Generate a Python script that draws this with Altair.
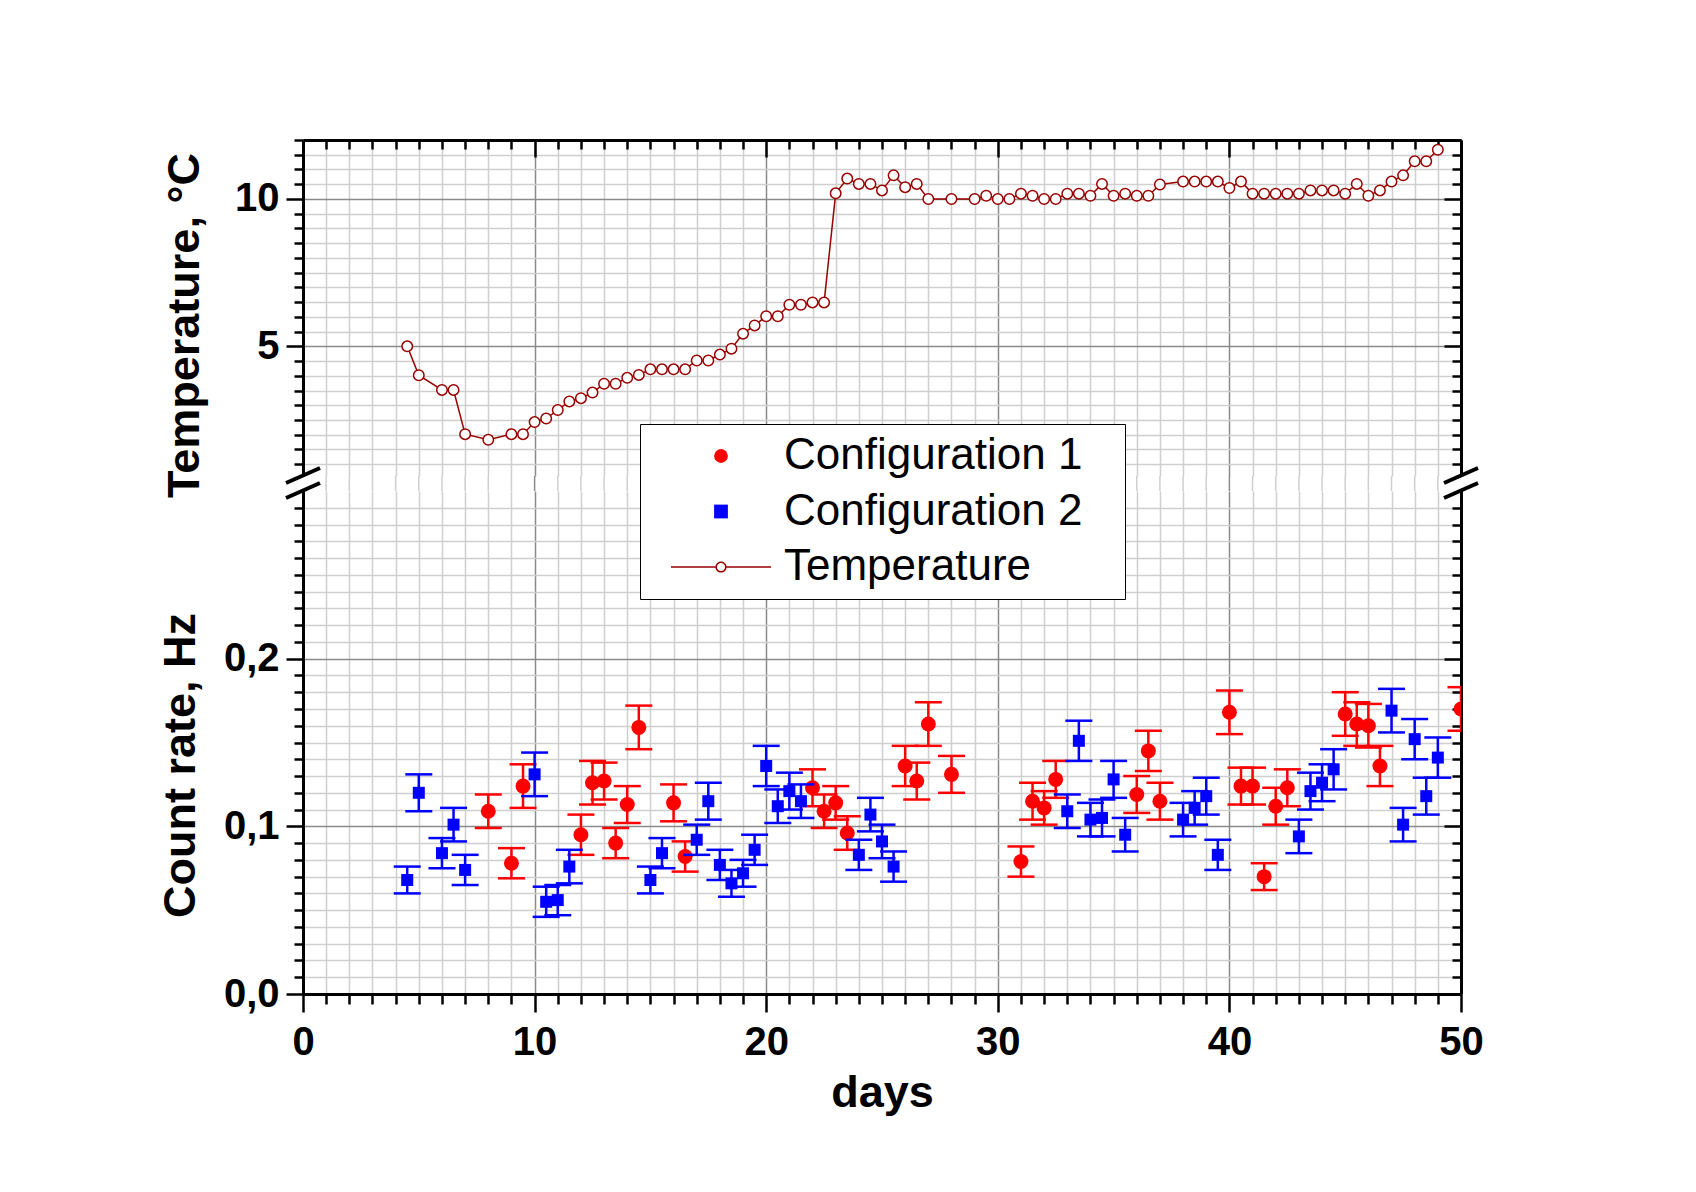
import altair as alt
import pandas as pd

# ---------------- data ----------------
days_c1 = [8, 9, 9.5, 12, 12.5, 13, 13.5, 14, 14.5, 16, 16.5, 22, 22.5, 23, 23.5,
           26, 26.5, 27, 28, 31, 31.5, 32, 32.5, 36, 36.5, 37, 40, 40.5, 41, 41.5,
           42, 42.5, 45, 45.5, 46, 46.5, 50]
rate_c1 = [0.109, 0.078, 0.124, 0.095, 0.126, 0.127, 0.090, 0.113, 0.159, 0.114, 0.082,
           0.123, 0.109, 0.114, 0.096, 0.136, 0.127, 0.161, 0.131, 0.079, 0.115, 0.111,
           0.128, 0.119, 0.145, 0.115, 0.168, 0.124, 0.124, 0.070, 0.112, 0.123, 0.167,
           0.161, 0.160, 0.136, 0.170]
err_c1 = [0.010, 0.009, 0.013, 0.012, 0.013, 0.011, 0.009, 0.011, 0.013, 0.011, 0.009,
          0.011, 0.010, 0.010, 0.010, 0.012, 0.011, 0.013, 0.011, 0.009, 0.011, 0.010,
          0.011, 0.011, 0.012, 0.011, 0.013, 0.011, 0.011, 0.008, 0.011, 0.011, 0.013,
          0.013, 0.013, 0.012, 0.013]

days_c2 = [4.5, 5, 6, 6.5, 7, 10, 10.5, 11, 11.5, 15, 15.5, 17, 17.5, 18, 18.5, 19, 19.5,
           20, 20.5, 21, 21.5, 24, 24.5, 25, 25.5, 33, 33.5, 34, 34.5, 35, 35.5, 38, 38.5,
           39, 39.5, 43, 43.5, 44, 44.5, 47, 47.5, 48, 48.5, 49]
rate_c2 = [0.068, 0.120, 0.084, 0.101, 0.074, 0.131, 0.055, 0.056, 0.076, 0.068, 0.084,
           0.092, 0.115, 0.077, 0.066, 0.072, 0.086, 0.136, 0.112, 0.121, 0.115, 0.083,
           0.107, 0.091, 0.076, 0.109, 0.151, 0.104, 0.105, 0.128, 0.095, 0.104, 0.111,
           0.118, 0.083, 0.094, 0.121, 0.126, 0.134, 0.169, 0.101, 0.152, 0.118, 0.141]
err_c2 = [0.008, 0.011, 0.009, 0.010, 0.009, 0.013, 0.009, 0.009, 0.010, 0.008, 0.009,
          0.009, 0.011, 0.009, 0.008, 0.008, 0.009, 0.012, 0.010, 0.011, 0.010, 0.009,
          0.010, 0.010, 0.009, 0.010, 0.012, 0.010, 0.011, 0.011, 0.010, 0.010, 0.010,
          0.011, 0.009, 0.010, 0.011, 0.011, 0.012, 0.013, 0.010, 0.012, 0.011, 0.012]

temp_days = [4.5, 5, 6, 6.5, 7, 8, 9, 9.5, 10, 10.5, 11, 11.5, 12, 12.5, 13, 13.5, 14, 14.5,
             15, 15.5, 16, 16.5, 17, 17.5, 18, 18.5, 19, 19.5, 20, 20.5, 21, 21.5, 22, 22.5,
             23, 23.5, 24, 24.5, 25, 25.5, 26, 26.5, 27, 28, 29, 29.5, 30, 30.5, 31, 31.5,
             32, 32.5, 33, 33.5, 34, 34.5, 35, 35.5, 36, 36.5, 37, 38, 38.5, 39, 39.5, 40,
             40.5, 41, 41.5, 42, 42.5, 43, 43.5, 44, 44.5, 45, 45.5, 46, 46.5, 47, 47.5, 48,
             48.5, 49]
temp_vals = [5.0, 4.02, 3.52, 3.52, 2.02, 1.83, 2.02, 2.02, 2.43, 2.55, 2.84, 3.13, 3.24,
             3.43, 3.73, 3.73, 3.93, 4.03, 4.22, 4.22, 4.22, 4.22, 4.52, 4.52, 4.72, 4.92,
             5.43, 5.71, 6.02, 6.02, 6.41, 6.41, 6.49, 6.49, 10.19, 10.69, 10.51, 10.51,
             10.29, 10.8, 10.40, 10.51, 10.0, 10.0, 10.0, 10.11, 10.0, 10.0, 10.18, 10.11,
             10.0, 10.0, 10.18, 10.18, 10.11, 10.51, 10.11, 10.18, 10.11, 10.11, 10.49,
             10.59, 10.59, 10.59, 10.59, 10.37, 10.59, 10.18, 10.18, 10.18, 10.18, 10.18,
             10.29, 10.29, 10.29, 10.18, 10.51, 10.11, 10.29, 10.59, 10.8, 11.28, 11.28, 11.67]

series_names = ["Configuration 1", "Configuration 2", "Temperature"]
series_colors = ["#ff0000", "#0000ff", "#990000"]

x_ticks = list(range(0, 51))
rate_ticks = [round(i * 0.01, 2) for i in range(0, 30)]
temp_ticks = [round(1.0 + i * 0.5, 1) for i in range(0, 23)]

# ---------------- layout constants ----------------
W = 1158
H_TOP = 336
H_BOT = 503
GAP = 15
FONT = "Liberation Sans"
MINOR = "#cfcfcf"
MAJOR = "#8a8a8a"
TEMP_COLOR = series_colors[2]

# legend glyph for the temperature entry: short line through an open circle
temp_path = ("M-7.26,-0.109L-0.80,-0.109L-0.80,0.109L-7.26,0.109Z"
             "M0.80,-0.109L7.26,-0.109L7.26,0.109L0.80,0.109Z"
             "M0.813,0A0.813,0.813,0,1,0,-0.813,0A0.813,0.813,0,1,0,0.813,0Z"
             "M0.595,0A0.595,0.595,0,1,1,-0.595,0A0.595,0.595,0,1,1,0.595,0Z")
series_shapes = ["circle", "square", temp_path]

c1 = pd.DataFrame({"days": days_c1, "rate": rate_c1, "err": err_c1, "series": series_names[0]})
c2 = pd.DataFrame({"days": days_c2, "rate": rate_c2, "err": err_c2, "series": series_names[1]})
tdf = pd.DataFrame({"days": temp_days, "temp": temp_vals})
gap_ticks = pd.DataFrame({"tick": x_ticks[1:-1]})
one = pd.DataFrame({"k": [0]})


def cond(test, a, b):
    return {"condition": {"test": test, "value": a}, "value": b}


X10 = "datum.value % 10 === 0"
R10 = "round(datum.value * 100) % 10 === 0"
T5 = "datum.value % 5 === 0"

x_scale = alt.Scale(domain=[0, 50], nice=False, zero=False)
rate_scale = alt.Scale(domain=[0, 0.3], nice=False, zero=False)
temp_scale = alt.Scale(domain=[0.6, 12], nice=False, zero=False)

common_tick = dict(tickColor="black", tickWidth=2.5, domainColor="black", domainWidth=3)
label_style = dict(labelFont=FONT, labelFontSize=40, labelFontWeight="bold", labelColor="black",
                   labelOverlap=False, labelFlush=False)
title_style = dict(titleFont=FONT, titleFontSize=45, titleFontWeight="bold", titleColor="black")

# bottom x axis: labels + title + grid
x_bottom_axis = alt.Axis(
    orient="bottom", values=x_ticks, domain=True, ticks=True,
    tickSize=cond(X10, 18, 10), labels=True,
    labelExpr="datum.value % 10 === 0 ? datum.label : ''", labelPadding=10,
    grid=True, gridColor=cond(X10, MAJOR, MINOR), gridWidth=1.5,
    title="days", titlePadding=8, **label_style, **title_style, **common_tick)

rate_axis = alt.Axis(
    orient="left", values=rate_ticks, domain=True, ticks=True,
    tickSize=cond(R10, 17, 9), labels=True,
    labelExpr="round(datum.value * 100) % 10 === 0 && datum.value < 0.25 ? replace(format(datum.value, '.1f'), '.', ',') : ''",
    labelPadding=7,
    grid=True, gridColor=cond(R10, MAJOR, MINOR), gridWidth=1.5,
    title="Count rate, Hz", titleX=-100, titleY=274, **label_style, **title_style, **common_tick)

rate_right_axis = alt.Axis(
    orient="left", offset=-W, values=rate_ticks, domain=True, ticks=True,
    tickSize=cond(R10, 17, 9), labels=False, grid=False, title=None, **common_tick)

x_grid_axis = alt.Axis(
    orient="bottom", values=x_ticks, domain=False, ticks=False, labels=False,
    grid=True, gridColor=cond(X10, MAJOR, MINOR), gridWidth=1.5, title=None)

x_top_axis = alt.Axis(
    orient="bottom", offset=-H_TOP, values=x_ticks, domain=True, ticks=True,
    tickSize=cond(X10, 17, 9), labels=False, grid=False, title=None, **common_tick)

temp_axis = alt.Axis(
    orient="left", values=temp_ticks, domain=True, ticks=True,
    tickSize=cond(T5, 17, 9), labels=True,
    labelExpr="datum.value % 5 === 0 ? format(datum.value, 'd') : ''", labelPadding=7,
    grid=True, gridColor=cond(T5, MAJOR, MINOR), gridWidth=1.5,
    title="Temperature, °C", titleX=-96, titleY=185, **label_style, **title_style, **common_tick)

temp_right_axis = alt.Axis(
    orient="left", offset=-W, values=temp_ticks, domain=True, ticks=True,
    tickSize=cond(T5, 17, 9), labels=False, grid=False, title=None, **common_tick)

legend = alt.Legend(
    title=None, orient="none", legendX=337, legendY=284, direction="vertical",
    symbolSize=190, symbolStrokeWidth=0, symbolOpacity=1,
    symbolOffset=49, labelOffset=41,
    labelExpr="datum.label + '\u2800'",
    labelFont=FONT, labelFontSize=44, labelFontWeight="normal", labelColor="black",
    labelLimit=600, padding=10, rowPadding=11.5,
    strokeColor="black", fillColor="white", cornerRadius=0)

color_enc = alt.Color("series:N", scale=alt.Scale(domain=series_names, range=series_colors), legend=legend)
shape_enc = alt.Shape("series:N", scale=alt.Scale(domain=series_names, range=series_shapes), legend=legend)

# ---------------- top panel: temperature ----------------
temp_line = alt.Chart(tdf).mark_line(color=TEMP_COLOR, strokeWidth=1.5).encode(
    x=alt.X("days:Q", scale=x_scale, axis=x_grid_axis),
    y=alt.Y("temp:Q", scale=temp_scale, axis=temp_axis))

temp_pts = alt.Chart(tdf).mark_point(
    filled=True, fill="white", stroke=TEMP_COLOR, strokeWidth=1.5, size=110,
    shape="circle", opacity=1).encode(
    x=alt.X("days:Q", scale=x_scale, axis=x_top_axis),
    y=alt.Y("temp:Q", scale=temp_scale, axis=temp_right_axis))

# vertical grid continuing through the axis break
gap_grid = alt.Chart(gap_ticks).mark_rule(strokeWidth=1.5).encode(
    x=alt.X("tick:Q", scale=x_scale, axis=None),
    y=alt.value(H_TOP), y2=alt.value(H_TOP + GAP),
    color=alt.condition("datum.tick % 10 === 0", alt.value(MAJOR), alt.value(MINOR)))

brk_top_l = alt.Chart(one).mark_rule(color="black", strokeWidth=4).encode(
    x=alt.value(-17), x2=alt.value(17), y=alt.value(H_TOP + 7), y2=alt.value(H_TOP - 8))
brk_top_r = alt.Chart(one).mark_rule(color="black", strokeWidth=4).encode(
    x=alt.value(W - 17), x2=alt.value(W + 17), y=alt.value(H_TOP + 7), y2=alt.value(H_TOP - 8))

top = alt.layer(temp_line, temp_pts, gap_grid, brk_top_l, brk_top_r).resolve_axis(
    x="independent", y="independent").properties(width=W, height=H_TOP)


# ---------------- bottom panel: count rate ----------------
def config_layers(df, color, size, first=False):
    base = alt.Chart(df).transform_calculate(
        lo="datum.rate - datum.err", hi="datum.rate + datum.err")
    bars = base.mark_rule(color=color, strokeWidth=2.5, clip=True).encode(
        x=alt.X("days:Q", scale=x_scale, axis=x_bottom_axis if first else None),
        y=alt.Y("lo:Q", scale=rate_scale, axis=rate_axis if first else None),
        y2="hi:Q")
    cap_lo = base.mark_rule(color=color, strokeWidth=2.5, xOffset=-13.5, x2Offset=13.5, clip=True).encode(
        x=alt.X("days:Q", scale=x_scale, axis=None), x2="days:Q",
        y=alt.Y("lo:Q", scale=rate_scale, axis=rate_right_axis if first else None))
    cap_hi = base.mark_rule(color=color, strokeWidth=2.5, xOffset=-13.5, x2Offset=13.5, clip=True).encode(
        x=alt.X("days:Q", scale=x_scale, axis=None), x2="days:Q",
        y=alt.Y("hi:Q", scale=rate_scale, axis=None))
    pts = base.mark_point(filled=True, size=size, opacity=1, strokeWidth=0, clip=True).encode(
        x=alt.X("days:Q", scale=x_scale, axis=None),
        y=alt.Y("rate:Q", scale=rate_scale, axis=None),
        color=color_enc, shape=shape_enc)
    return [bars, cap_lo, cap_hi, pts]


brk_bot_l = alt.Chart(one).mark_rule(color="black", strokeWidth=4).encode(
    x=alt.value(-17), x2=alt.value(17), y=alt.value(7), y2=alt.value(-8))
brk_bot_r = alt.Chart(one).mark_rule(color="black", strokeWidth=4).encode(
    x=alt.value(W - 17), x2=alt.value(W + 17), y=alt.value(7), y2=alt.value(-8))

bottom = alt.layer(
    *config_layers(c1, series_colors[0], 225, first=True),
    *config_layers(c2, series_colors[1], 144),
    brk_bot_l, brk_bot_r).resolve_axis(
    x="independent", y="independent").properties(width=W, height=H_BOT)

chart = alt.vconcat(top, bottom, spacing=GAP, bounds="flush").properties(
    padding={"left": 157, "top": 119, "right": 10, "bottom": 10},
    background="white").configure_view(stroke="transparent")

chart.save("out.html", embed_options={"renderer": "svg", "actions": False})
